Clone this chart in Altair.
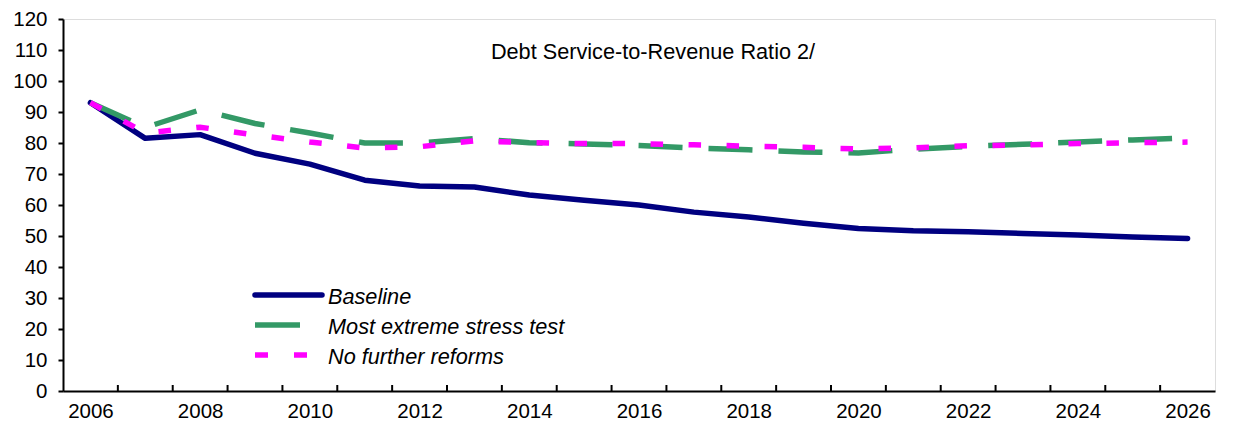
import altair as alt
import pandas as pd

years = list(range(2006, 2027))
baseline = [93.0, 81.5, 82.7, 76.7, 73.2, 68.0, 66.1, 65.8, 63.2, 61.5, 60.0,
            57.7, 56.1, 54.1, 52.4, 51.7, 51.4, 50.8, 50.3, 49.7, 49.2]
stress = [93.0, 85.0, 90.7, 86.3, 83.2, 80.0, 80.0, 81.4, 80.1, 79.7, 79.2,
          78.4, 77.8, 77.1, 76.8, 78.0, 78.9, 79.6, 80.3, 81.0, 81.6]
noreform = [93.0, 83.2, 85.1, 82.6, 80.3, 78.4, 78.8, 80.7, 80.1, 79.8, 79.8,
            79.4, 79.0, 78.6, 78.1, 78.4, 79.1, 79.4, 79.8, 80.1, 80.3]
series_names = ["Baseline", "Most extreme stress test", "No further reforms"]
title_text = "Debt Service-to-Revenue Ratio 2/"
y_ticks = list(range(0, 121, 10))
x_label_years = list(range(2006, 2027, 2))
tick_bounds = [y + 0.5 for y in years[:-1]]

W, H = 1152, 372
FONT = "Liberation Sans"
TICK_FS = 20.5
TEXT_FS = 21.7

xscale = alt.Scale(domain=[2005.5, 2026.5], nice=False, zero=False)
yscale = alt.Scale(domain=[0, 120], nice=False)

xaxis = alt.Axis(values=x_label_years, format="d", tickSize=0, labelPadding=10,
                 labelFontSize=TICK_FS, labelFont=FONT, labelColor="black",
                 domainColor="black", domainWidth=2, grid=False, title=None,
                 labelFlush=False, labelOverlap=False)
yaxis = alt.Axis(values=y_ticks, tickSize=5, tickWidth=2, tickColor="black",
                 labelPadding=11, labelFontSize=TICK_FS, labelFont=FONT,
                 labelColor="black", domainColor="black", domainWidth=2,
                 grid=False, title=None, labelOverlap=False)

def line_df(vals):
    return pd.DataFrame({"year": years, "value": vals})

X = alt.X("year:Q", scale=xscale, axis=xaxis)
Y = alt.Y("value:Q", scale=yscale, axis=yaxis)

base = alt.Chart(line_df(baseline)).mark_line(
    color="#000080", strokeWidth=5.5, strokeCap="round", strokeJoin="round"
).encode(x=X, y=Y)

green = alt.Chart(line_df(stress)).mark_line(
    color="#339966", strokeWidth=5.5, strokeDash=[44, 26], strokeCap="butt"
).encode(x=X, y=Y)

mag = alt.Chart(line_df(noreform)).mark_line(
    color="#FF00FF", strokeWidth=5.5, strokeDash=[12.5, 25.5], strokeCap="butt"
).encode(x=X, y=Y)

ticks = alt.Chart(pd.DataFrame({"b": tick_bounds})).mark_rule(
    color="black", strokeWidth=2
).encode(x=alt.X("b:Q", scale=xscale, axis=xaxis), y=alt.value(H), y2=alt.value(H - 6))

title = alt.Chart(pd.DataFrame({"t": [title_text]})).mark_text(
    font=FONT, fontSize=TEXT_FS, color="black", align="center", baseline="middle"
).encode(text="t:N", x=alt.value(590), y=alt.value(33))

# manual legend
leg_x1, leg_text_x = 192, 265
leg_rows = [276, 306, 336]
leg_base = alt.Chart(pd.DataFrame({"s": [series_names[0]]})).mark_rule(
    color="#000080", strokeWidth=5.5, strokeCap="round"
).encode(x=alt.value(leg_x1), x2=alt.value(259), y=alt.value(leg_rows[0]))
leg_green = alt.Chart(pd.DataFrame({"s": [series_names[1]]})).mark_rule(
    color="#339966", strokeWidth=5.5
).encode(x=alt.value(leg_x1), x2=alt.value(237), y=alt.value(leg_rows[1]))
leg_mag = alt.Chart(pd.DataFrame({"s": [series_names[2]]})).mark_rule(
    color="#FF00FF", strokeWidth=5.5, strokeDash=[13, 26]
).encode(x=alt.value(leg_x1), x2=alt.value(244), y=alt.value(leg_rows[2]))

leg_texts = []
for name, yy in zip(series_names, leg_rows):
    leg_texts.append(
        alt.Chart(pd.DataFrame({"s": [name]})).mark_text(
            font=FONT, fontSize=TEXT_FS, fontStyle="italic", color="black",
            align="left", baseline="middle"
        ).encode(text="s:N", x=alt.value(leg_text_x), y=alt.value(yy + 2))
    )

chart = alt.layer(
    ticks, base, green, mag, title, leg_base, leg_green, leg_mag, *leg_texts
).properties(
    width=W, height=H,
    autosize=alt.AutoSizeParams(type="none"),
    padding={"left": 55, "top": 11, "right": 12, "bottom": 30},
).configure_view(
    stroke="black", strokeWidth=2
).configure(background="white")

chart.save("out.html", embed_options={"renderer": "svg", "actions": False})
